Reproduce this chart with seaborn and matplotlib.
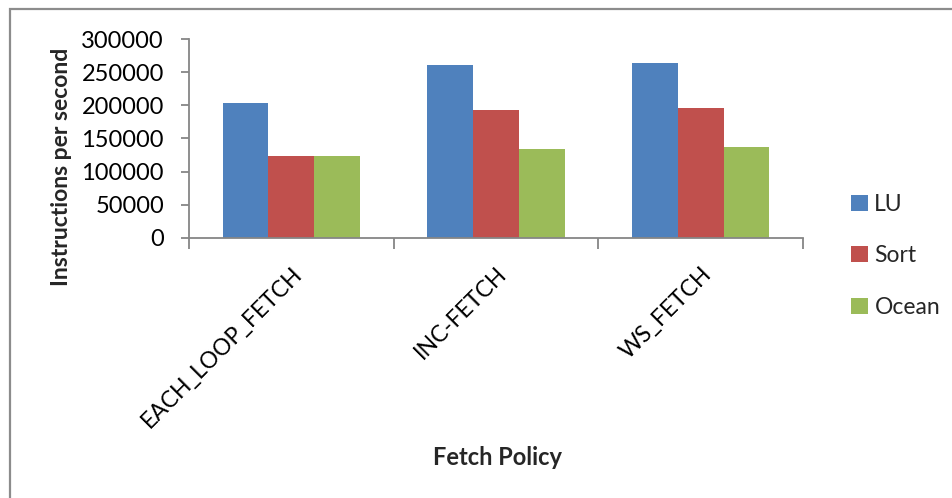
import matplotlib
matplotlib.use("Agg")
import matplotlib.pyplot as plt
from matplotlib.patches import Rectangle
import seaborn as sns
import pandas as pd

# Throughput per fetch policy and benchmark
policies = ["EACH_LOOP_FETCH", "INC-FETCH", "WS_FETCH"]
benchmarks = ["LU", "Sort", "Ocean"]
lu_values = [203400, 260700, 264200]
sort_values = [123800, 192800, 195300]
ocean_values = [122900, 133900, 136500]
y_ticks = [0, 50000, 100000, 150000, 200000, 250000, 300000]

colors = ["#4F81BD", "#C0504D", "#9BBB59"]

df = pd.DataFrame({
    "policy": policies * 3,
    "benchmark": [b for b in benchmarks for _ in policies],
    "ips": lu_values + sort_values + ocean_values,
})

sns.set_theme(style="white")
plt.rcParams["font.family"] = ["Lato", "DejaVu Sans"]

W, H = 952, 498
fig = plt.figure(figsize=(W / 100, H / 100), dpi=100)
ax = fig.add_axes([189 / W, 1 - 238 / H, (803 - 189) / W, (238 - 39) / H])

sns.barplot(data=df, x="policy", y="ips", hue="benchmark", order=policies,
            hue_order=benchmarks, palette=colors, width=0.67, gap=0,
            linewidth=0, saturation=1, ax=ax, legend=False)

ax.set_ylim(0, 300000)
ax.set_xlim(-0.5, len(policies) - 0.5)
ax.set_yticks(y_ticks)
ax.set_yticklabels([str(v) for v in y_ticks], fontsize=17, color="black")

# Category dividers as major ticks, names as minor ticks
ax.set_xticks([i - 0.5 for i in range(len(policies) + 1)])
ax.set_xticklabels([])
ax.set_xticks(range(len(policies)), minor=True)
ax.set_xticklabels(policies, minor=True, rotation=45, ha="right",
                   va="top", rotation_mode="anchor", fontsize=16.5,
                   color="black")
ax.tick_params(axis="x", which="minor", length=0, pad=18)
ax.tick_params(axis="x", which="major", length=8, width=1.3,
               color="#868686", direction="out", bottom=True)
ax.tick_params(axis="y", length=6, width=1.3, color="#868686",
               direction="out", left=True, pad=12)

for side in ("top", "right"):
    ax.spines[side].set_visible(False)
for side in ("left", "bottom"):
    ax.spines[side].set_color("#868686")
    ax.spines[side].set_linewidth(1.3)

ax.set_ylabel("")
ax.set_xlabel("")
fig.text(62 / W, 1 - 167 / H, "Instructions per second", fontsize=16.5,
         fontweight="bold", rotation=90, ha="center", va="center")
fig.text(497 / W, 1 - 457 / H, "Fetch Policy", fontsize=17,
         fontweight="bold", ha="center", va="center")

handles = [Rectangle((0, 0), 1, 1, facecolor=c, edgecolor="none")
           for c in colors]
fig.legend(handles, benchmarks, loc="center left",
           bbox_to_anchor=(840 / W, 1 - 256 / H), frameon=False,
           fontsize=16.5, handlelength=0.7, handleheight=0.7,
           handletextpad=0.3, labelspacing=1.35, borderpad=0)

# Outer chart frame
fig.patches.append(Rectangle((9.5 / W, -0.1), 1.2, 1 - 9.5 / H + 0.1,
                             transform=fig.transFigure, fill=False,
                             edgecolor="#8C8C8C", linewidth=1.6))

fig.savefig("out.png", dpi=100)
